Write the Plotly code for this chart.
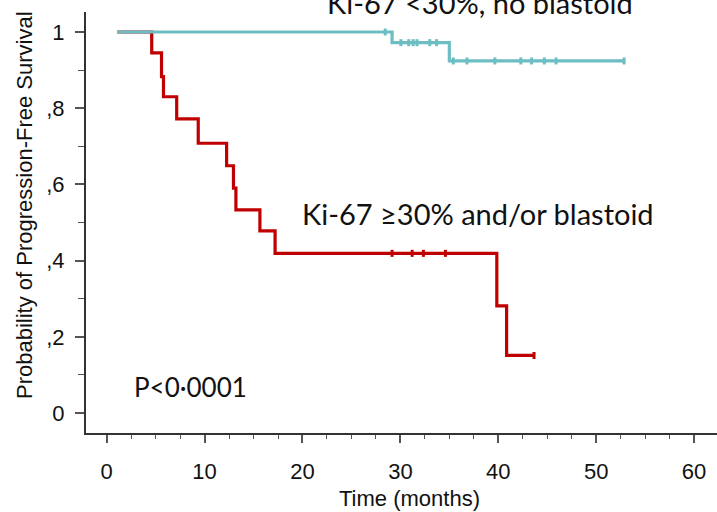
import plotly.graph_objects as go

# Kaplan-Meier estimates, progression-free survival (months)
# High-risk group: Ki-67 >=30% and/or blastoid morphology
high_times = [1.1, 4.6, 5.6, 5.8, 7.15, 9.35, 12.25, 12.95, 13.2, 15.65, 17.2, 39.85, 40.85, 43.65]
high_surv = [1.0, 0.945, 0.883, 0.830, 0.772, 0.708, 0.649, 0.590, 0.533, 0.478, 0.419, 0.281, 0.151, 0.151]
high_censored = [29.15, 31.2, 32.35, 34.6, 43.65]

# Low-risk group: Ki-67 <30%, no blastoid morphology
low_times = [1.1, 29.15, 35.0, 52.85]
low_surv = [1.0, 0.972, 0.924, 0.924]
low_censored = [28.45, 30.05, 30.85, 31.3, 31.7, 33.0, 33.7, 35.4, 36.8, 39.65,
                42.3, 43.4, 44.7, 45.9, 52.85]

x_ticks = [0, 10, 20, 30, 40, 50, 60]
y_ticks = [0, 0.2, 0.4, 0.6, 0.8, 1.0]
y_ticktext = ["0", ",2", ",4", ",6", ",8", "1"]

RED = "#C00000"
TEAL = "#6CBEC3"
AXIS_FONT = "Liberation Sans, Arial, sans-serif"
LABEL_FONT = "Lato, Calibri, sans-serif"

W, H = 717, 512
ML, MR, MT, MB = 86, 0, 12, 79


def surv_at(t, times, surv):
    """Value of the step function at time t."""
    val = surv[0]
    for ti, si in zip(times, surv):
        if ti <= t:
            val = si
    return val


def paper_x(px):
    return (px - ML) / (W - ML - MR)


def paper_y(py):
    return (H - MB - py) / (H - MT - MB)


fig = go.Figure()

for times, surv, cens, color in [
    (high_times, high_surv, high_censored, RED),
    (low_times, low_surv, low_censored, TEAL),
]:
    fig.add_trace(go.Scatter(
        x=times, y=surv, mode="lines",
        line=dict(color=color, width=3.2, shape="hv"),
        showlegend=False, hoverinfo="skip",
    ))
    fig.add_trace(go.Scatter(
        x=cens, y=[surv_at(t, times, surv) for t in cens], mode="markers",
        marker=dict(symbol="line-ns", size=5, line=dict(color=color, width=3)),
        showlegend=False, hoverinfo="skip",
    ))

fig.add_annotation(x=paper_x(300), y=paper_y(213), xref="paper", yref="paper",
                   xanchor="left", yanchor="middle",
                   text="Ki-67 ≥30% and/or blastoid", showarrow=False,
                   font=dict(family=LABEL_FONT, size=29, color="#111111"))
fig.add_annotation(x=paper_x(325), y=paper_y(3), xref="paper", yref="paper",
                   xanchor="left", yanchor="middle",
                   text="Ki-67 <30%, no blastoid", showarrow=False,
                   font=dict(family=LABEL_FONT, size=29, color="#111111"))
fig.add_annotation(x=paper_x(132), y=paper_y(387), xref="paper", yref="paper",
                   xanchor="left", yanchor="middle",
                   text="P<0·0001", showarrow=False,
                   font=dict(family=LABEL_FONT, size=26, color="#111111"))

# Axis titles
fig.add_annotation(x=paper_x(24), y=paper_y(205), xref="paper", yref="paper",
                   text="Probability of Progression-Free Survival", textangle=-90,
                   showarrow=False, xanchor="center", yanchor="middle",
                   font=dict(family=AXIS_FONT, size=22, color="#111111"))
fig.add_annotation(x=paper_x(409), y=paper_y(498), xref="paper", yref="paper",
                   text="Time (months)", showarrow=False,
                   xanchor="center", yanchor="middle",
                   font=dict(family=AXIS_FONT, size=22, color="#111111"))

fig.update_layout(
    width=W, height=H,
    margin=dict(l=ML, r=MR, t=MT, b=MB, pad=0),
    plot_bgcolor="white", paper_bgcolor="white",
    showlegend=False,
)

fig.update_xaxes(
    range=[-2.114, 62.34], tickvals=x_ticks,
    showline=True, linecolor="#333333", linewidth=2,
    ticks="outside", ticklen=8, tickwidth=1.5, tickcolor="#555555",
    ticklabelstandoff=10,
    minor=dict(tick0=0, dtick=2.5, ticks="outside", ticklen=4, tickwidth=1.2,
               tickcolor="#555555", showgrid=False),
    showgrid=False, zeroline=False,
    tickfont=dict(family=AXIS_FONT, size=22, color="#111111"),
)
fig.update_yaxes(
    range=[-0.0525, 1.0525], tickvals=y_ticks, ticktext=y_ticktext,
    showline=True, linecolor="#333333", linewidth=2,
    ticks="outside", ticklen=9, tickwidth=1.5, tickcolor="#555555",
    ticklabelstandoff=6,
    minor=dict(tick0=0, dtick=0.1, ticks="outside", ticklen=6, tickwidth=1.2,
               tickcolor="#555555", showgrid=False),
    showgrid=False, zeroline=False,
    tickfont=dict(family=AXIS_FONT, size=22, color="#111111"),
)

fig.write_html("out.html")
